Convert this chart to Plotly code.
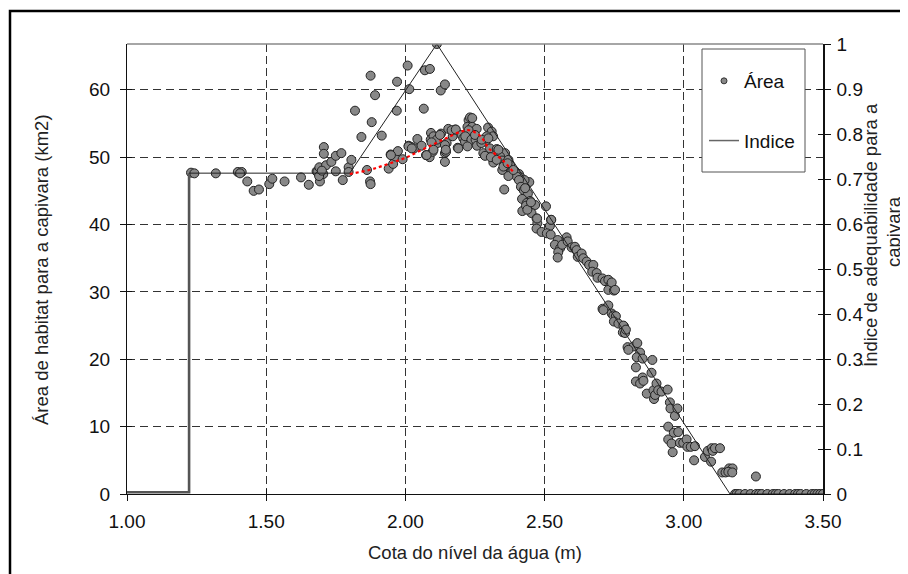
import plotly.graph_objects as go

# ---------------- data ----------------
# Scatter: water level (m) vs habitat area (km2)
cota = [
    1.230, 1.242, 1.319, 1.398, 1.412, 1.406, 1.432, 1.455, 1.474, 1.511, 1.522, 1.566,
    1.625, 1.653, 1.681, 1.684, 1.691, 1.693, 1.701, 1.705, 1.707, 1.707, 1.715, 1.734,
    1.750, 1.770, 1.750, 1.775, 1.796, 1.806, 1.796, 1.690, 1.700,
    1.819, 1.842, 1.875, 1.879, 1.891, 1.915, 1.969, 1.970, 2.008, 2.014, 2.066, 2.070,
    2.088, 2.113, 2.127, 2.142,
    1.862, 1.873, 1.875, 1.940, 1.947, 1.956, 1.964, 1.973, 1.948, 1.990, 2.012, 2.022,
    2.031, 2.043, 2.058, 2.074, 2.087, 2.092, 2.098, 2.109, 2.115, 2.128, 2.142, 2.142,
    2.154, 2.170, 2.179, 2.188, 2.148, 2.091, 2.101, 2.113, 2.142, 2.146, 2.166, 2.181,
    2.202, 2.011, 2.023, 2.076, 2.094, 2.101, 2.124, 2.145, 2.190, 2.208, 2.214,
    2.227, 2.232, 2.240, 2.223, 2.240, 2.256, 2.227, 2.215, 2.237, 2.252, 2.223, 2.257,
    2.297, 2.310, 2.315, 2.292, 2.288, 2.273, 2.280, 2.286, 2.304, 2.316, 2.328, 2.335,
    2.358, 2.307, 2.340, 2.347, 2.357, 2.370, 2.376, 2.366, 2.348, 2.381, 2.394, 2.408,
    2.414, 2.400, 2.445, 2.428, 2.408, 2.415, 2.425, 2.355, 2.440, 2.419, 2.448, 2.453,
    2.436, 2.466, 2.420, 2.453, 2.471, 2.505, 2.474, 2.519, 2.523, 2.250, 2.274, 2.298,
    2.334, 2.328, 2.352, 2.367, 2.370, 2.388, 2.430, 2.433, 2.438, 2.451, 2.473, 2.471,
    2.489,
    2.508, 2.522, 2.524, 2.547, 2.537, 2.556, 2.549, 2.547, 2.563, 2.579, 2.583, 2.597,
    2.609, 2.615, 2.619, 2.633, 2.639, 2.651, 2.660, 2.675, 2.671, 2.687, 2.690, 2.708,
    2.717, 2.729, 2.737, 2.729, 2.749, 2.741, 2.753, 2.708, 2.729, 2.711, 2.741, 2.747,
    2.756, 2.749, 2.765, 2.785, 2.783, 2.781, 2.789, 2.792, 2.798, 2.819, 2.833, 2.801,
    2.843, 2.831, 2.852, 2.887,
    2.828, 2.884, 2.828, 2.843, 2.852, 2.855, 2.867, 2.891, 2.902, 2.893, 2.897, 2.908,
    2.920, 2.942, 2.950, 2.952, 2.968, 2.977, 2.944, 2.944, 2.956, 2.960, 2.964, 2.980,
    2.986, 2.998, 3.010, 3.013, 3.025, 3.040, 3.037, 3.076, 3.086, 3.100, 3.104, 3.112,
    3.130, 3.098, 3.138, 3.150, 3.163, 3.175, 3.160, 3.174, 3.259,
    3.184, 3.190, 3.200, 3.220, 3.240, 3.260, 3.270, 3.280, 3.300, 3.320, 3.330, 3.340,
    3.360, 3.380, 3.400, 3.410, 3.420, 3.440, 3.460, 3.470, 3.480, 3.490, 3.500,
]
area = [
    47.7, 47.6, 47.6, 47.8, 47.8, 47.6, 46.4, 45.0, 45.2, 46.0, 46.8, 46.4,
    47.0, 45.9, 47.9, 47.8, 48.5, 46.4, 47.5, 47.5, 51.5, 50.5, 48.8, 49.3,
    50.2, 50.6, 47.9, 46.6, 48.5, 49.6, 47.8, 47.2, 48.0,
    56.9, 53.0, 62.1, 55.2, 59.2, 53.2, 56.9, 61.2, 63.6, 60.1, 57.2, 62.9,
    63.1, 66.8, 59.9, 60.8,
    48.1, 46.4, 46.0, 48.3, 50.4, 49.0, 50.1, 50.9, 50.3, 49.7, 51.7, 51.5,
    51.3, 52.7, 51.7, 50.3, 50.0, 53.6, 50.8, 52.8, 52.1, 53.5, 49.3, 50.6,
    54.2, 53.1, 54.1, 51.4, 52.1, 52.6, 53.1, 52.6, 51.8, 50.8, 54.0, 54.1,
    53.3, 51.6, 51.3, 50.3, 52.2, 51.1, 53.3, 51.1, 51.3, 52.8, 52.3,
    55.5, 55.9, 55.8, 54.5, 54.5, 54.2, 54.0, 53.1, 52.6, 52.6, 51.6, 51.7,
    54.4, 53.8, 53.1, 53.1, 52.3, 52.1, 50.6, 50.2, 51.3, 49.2, 51.2, 51.0,
    50.6, 50.0, 50.1, 49.5, 49.0, 49.6, 48.8, 48.5, 48.1, 47.8, 47.9, 47.5,
    47.0, 47.1, 46.3, 46.6, 46.6, 45.6, 45.1, 45.2, 44.6, 43.8, 43.5, 43.2,
    43.2, 42.9, 42.0, 41.7, 40.9, 42.7, 40.2, 39.8, 40.7, 53.3, 52.6, 52.8,
    51.1, 49.6, 48.6, 49.1, 47.2, 48.1, 45.4, 42.8, 42.2, 43.3, 40.9, 39.4,
    38.9,
    38.7, 38.5, 40.7, 37.7, 37.0, 36.5, 35.9, 35.1, 37.0, 38.1, 37.5, 36.6,
    36.7, 36.2, 35.2, 35.7, 35.0, 34.5, 34.0, 34.0, 33.0, 32.8, 32.1, 32.0,
    31.6, 31.8, 31.0, 30.3, 30.2, 31.4, 30.3, 27.5, 28.0, 27.3, 26.8, 26.5,
    26.4, 25.6, 25.3, 24.9, 25.0, 24.0, 23.9, 24.4, 21.8, 21.9, 22.4, 21.4,
    21.0, 20.3, 20.1, 19.9,
    18.8, 18.0, 16.7, 16.4, 17.3, 16.8, 14.9, 15.4, 16.4, 14.1, 14.7, 15.4,
    15.2, 15.5, 13.6, 12.7, 11.6, 12.7, 10.0, 8.1, 7.5, 6.2, 9.1, 9.2,
    7.6, 7.6, 8.1, 7.0, 7.0, 7.1, 5.0, 5.5, 6.4, 6.8, 6.4, 6.8,
    6.8, 4.8, 3.2, 3.2, 3.8, 3.8, 3.3, 3.2, 2.6,
    0, 0, 0, 0, 0, 0, 0, 0, 0, 0, 0, 0,
    0, 0, 0, 0, 0, 0, 0, 0, 0, 0, 0,
]

# Suitability index (right axis)
indice_x = [1.00, 1.223, 1.223, 1.80, 2.113, 3.166, 3.50]
indice_y = [0.004, 0.004, 0.713, 0.713, 1.0, 0.0, 0.0]

# Polynomial trend (red dotted)
trend_x = [1.80, 1.87, 1.91, 1.96, 2.00, 2.05, 2.10, 2.15, 2.20, 2.23, 2.27, 2.30, 2.35, 2.39]
trend_y = [47.5, 48.1, 48.6, 49.3, 49.9, 50.9, 51.9, 52.9, 53.8, 54.0, 53.1, 51.3, 49.5, 47.7]

x_ticks = [1.0, 1.5, 2.0, 2.5, 3.0, 3.5]
x_ticklabels = ["1.00", "1.50", "2.00", "2.50", "3.00", "3.50"]
y_left_max = 66.8

# ---------------- figure ----------------
OFF = 8  # page body margin
W, H = 900, 566
L, R, T, B = 119, 85, 36, 80
PW, PH = W - L - R, H - T - B


def px(xp):  # page pixel x -> paper
    return (xp - OFF - L) / PW


def py(yp):  # page pixel y -> paper
    return (H - B - (yp - OFF)) / PH


FONT = "Liberation Sans, Arial, sans-serif"
TICK_SIZE = 19
TITLE_SIZE = 18.5
fig = go.Figure()

# empty helper traces so the inner-tick overlay axes get drawn
fig.add_trace(go.Scatter(x=[], y=[], xaxis="x2", yaxis="y3", showlegend=False,
                         hoverinfo="skip"))
fig.add_trace(go.Scatter(x=[], y=[], xaxis="x2", yaxis="y4", showlegend=False,
                         hoverinfo="skip"))

# index line: initial step (thicker grey) + main thin line
fig.add_trace(go.Scatter(x=indice_x[:3], y=indice_y[:3], mode="lines", yaxis="y2",
                         line=dict(color="#555555", width=2.6), showlegend=False,
                         hoverinfo="skip"))
fig.add_trace(go.Scatter(x=indice_x[2:], y=indice_y[2:], mode="lines", yaxis="y2",
                         line=dict(color="#222222", width=1), showlegend=False))

fig.add_trace(go.Scatter(x=cota, y=area, mode="markers",
                         marker=dict(size=9, color="#888888",
                                     line=dict(color="#222222", width=1)),
                         showlegend=False))

fig.add_trace(go.Scatter(x=trend_x, y=trend_y, mode="lines",
                         line=dict(color="#ff0000", width=2.2, dash="dot"),
                         line_shape="spline", showlegend=False))

# legend entries
fig.add_trace(go.Scatter(x=[None], y=[None], mode="markers", name="Área",
                         legendgroup="a",
                         marker=dict(size=6, color="#888888",
                                     line=dict(color="#333333", width=1))))
fig.add_trace(go.Scatter(x=[None], y=[None], mode="lines", name="Indice",
                         legendgroup="b",
                         line=dict(color="#666666", width=1.5)))

tickfont = dict(family=FONT, size=TICK_SIZE, color="#111111")
inner = dict(showgrid=False, zeroline=False, showline=False, ticks="inside",
             ticklen=5, tickcolor="#111111", showticklabels=False, fixedrange=True)

fig.update_layout(
    width=W, height=H,
    margin=dict(l=L, r=R, t=T, b=B, pad=0),
    paper_bgcolor="white", plot_bgcolor="white",
    font=dict(family=FONT, size=TICK_SIZE, color="#111111"),
    xaxis=dict(range=[1.0, 3.5], tickvals=x_ticks, ticktext=x_ticklabels,
               showgrid=True, gridcolor="#333333", griddash="8px,4px", gridwidth=1,
               zeroline=False, showline=True, linecolor="#111111", linewidth=1,
               ticks="outside", ticklen=6, tickcolor="#111111", tickfont=tickfont,
               ticklabelstandoff=4, mirror=False),
    yaxis=dict(range=[0, y_left_max], dtick=10, tick0=0,
               showgrid=True, gridcolor="#333333", griddash="8px,5px", gridwidth=1,
               zeroline=False, showline=True, linecolor="#111111", linewidth=1,
               ticks="outside", ticklen=6, tickcolor="#111111", tickfont=tickfont,
               ticklabelstandoff=6),
    yaxis2=dict(range=[0, 1], dtick=0.1, tick0=0, overlaying="y", side="right",
                anchor="x", showgrid=False, zeroline=False, showline=True,
                linecolor="#111111", linewidth=1.5, ticks="outside", ticklen=6,
                tickcolor="#111111", tickfont=tickfont, ticklabelstandoff=2),
    xaxis2=dict(range=[1.0, 3.5], tickvals=x_ticks, overlaying="x", side="bottom",
                anchor="y", **inner),
    yaxis3=dict(range=[0, 1], dtick=0.1, tick0=0, overlaying="y", side="right",
                anchor="x", **inner),
    yaxis4=dict(range=[0, y_left_max], dtick=10, tick0=0, overlaying="y", side="left",
                anchor="x", **inner),
    legend=dict(x=px(704), y=py(62), xanchor="left", yanchor="top",
                bgcolor="rgba(0,0,0,0)", borderwidth=0,
                font=dict(family=FONT, size=TICK_SIZE, color="#111111"),
                traceorder="grouped", tracegroupgap=32, itemwidth=30),
    showlegend=True,
)

# top frame line of plot area (grey)
fig.add_shape(type="line", xref="paper", yref="paper", x0=0, x1=1, y0=1, y1=1,
              line=dict(color="#888888", width=1.5))

# legend box (white, grey border)
fig.add_shape(type="rect", xref="paper", yref="paper",
              x0=px(702), x1=px(805), y0=py(49), y1=py(172),
              line=dict(color="#555555", width=1), fillcolor="white", layer="above")

# outer black frame
fig.add_shape(type="rect", xref="paper", yref="paper",
              x0=px(10), x1=px(915), y0=py(11), y1=py(585),
              line=dict(color="#000000", width=2.5), layer="above")

# axis titles
fig.add_annotation(text="Área de habitat para a capivara (km2)", xref="paper", yref="paper",
                   x=px(41), y=py(270), textangle=-90, showarrow=False,
                   font=dict(family=FONT, size=TITLE_SIZE, color="#222222"),
                   xanchor="center", yanchor="middle")
fig.add_annotation(text="Índice de adequabilidade para a", xref="paper", yref="paper",
                   x=px(871), y=py(235), textangle=-90, showarrow=False,
                   font=dict(family=FONT, size=TITLE_SIZE, color="#222222"),
                   xanchor="center", yanchor="middle")
fig.add_annotation(text="capivara", xref="paper", yref="paper",
                   x=px(893), y=py(232), textangle=-90, showarrow=False,
                   font=dict(family=FONT, size=TITLE_SIZE, color="#222222"),
                   xanchor="center", yanchor="middle")
fig.add_annotation(text="Cota do nível da água (m)", xref="paper", yref="paper",
                   x=px(475), y=py(552), showarrow=False,
                   font=dict(family=FONT, size=TITLE_SIZE, color="#222222"),
                   xanchor="center", yanchor="middle")

fig.write_html("out.html")
